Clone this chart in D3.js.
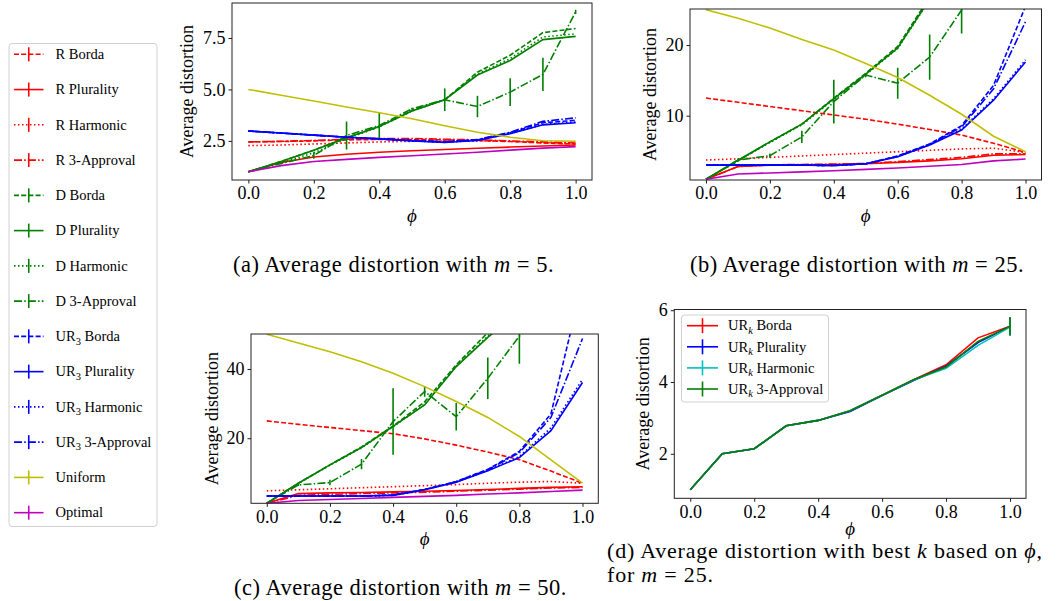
<!DOCTYPE html>
<html>
<head>
<meta charset="utf-8">
<script src="https://cdn.jsdelivr.net/npm/d3@7"></script>
<style>
body { margin: 0; background: #fff; }
text { font-family: "Liberation Serif", "Times New Roman", serif; fill: #000; }
</style>
</head>
<body>
<svg id="fig" width="1062" height="601"></svg>
<script>
// Data
const phi = [0, 0.1, 0.2, 0.3, 0.4, 0.5, 0.6, 0.7, 0.8, 0.9, 1.0];
const xTicks = [0, 0.2, 0.4, 0.6, 0.8, 1.0];

const seriesNames = [
    'R Borda', 'R Plurality', 'R Harmonic', 'R 3-Approval',
    'D Borda', 'D Plurality', 'D Harmonic', 'D 3-Approval',
    'UR_3 Borda', 'UR_3 Plurality', 'UR_3 Harmonic', 'UR_3 3-Approval',
    'Uniform', 'Optimal'
];

// m = 5
const m5Values = [
    [2.45, 2.47, 2.5, 2.55, 2.57, 2.57, 2.55, 2.52, 2.47, 2.4, 2.35],
    [1.0, 1.45, 1.72, 1.85, 1.95, 2.02, 2.08, 2.14, 2.2, 2.25, 2.3],
    [2.27, 2.3, 2.35, 2.4, 2.45, 2.48, 2.5, 2.5, 2.48, 2.42, 2.38],
    [2.45, 2.48, 2.52, 2.58, 2.62, 2.62, 2.58, 2.55, 2.5, 2.45, 2.4],
    [1.0, 1.5, 2.05, 2.65, 3.2, 3.98, 4.5, 5.84, 6.66, 7.76, 7.96],
    [1.0, 1.5, 2.05, 2.65, 3.2, 3.95, 4.5, 5.7, 6.41, 7.42, 7.58],
    [1.0, 1.45, 1.92, 2.6, 3.18, 3.95, 4.5, 5.75, 6.5, 7.55, 7.7],
    [1.0, 1.4, 1.79, 2.76, 3.25, 4.06, 4.5, 4.17, 4.87, 5.73, 8.77],
    [2.98, 2.88, 2.78, 2.68, 2.6, 2.52, 2.45, 2.55, 2.9, 3.38, 3.5],
    [2.98, 2.88, 2.78, 2.68, 2.6, 2.5, 2.42, 2.52, 2.85, 3.28, 3.38],
    [2.98, 2.88, 2.78, 2.68, 2.6, 2.5, 2.43, 2.53, 2.86, 3.3, 3.42],
    [2.98, 2.88, 2.78, 2.68, 2.6, 2.52, 2.46, 2.56, 2.92, 3.45, 3.62],
    [5.0, 4.72, 4.44, 4.15, 3.87, 3.58, 3.24, 2.92, 2.68, 2.51, 2.48],
    [1.0, 1.3, 1.5, 1.6, 1.7, 1.78, 1.86, 1.95, 2.05, 2.15, 2.22]
];
const m5ApprovalErr = [0, 0.03, 0.16, 0.68, 0.65, 0.05, 0.55, 0.52, 0.67, 0.81, 0.1];

// m = 25
const m25Values = [
    [12.5, 11.9, 11.3, 10.7, 10.1, 9.5, 8.8, 8.05, 7.25, 6.1, 4.8],
    [1.0, 2.8, 3.0, 3.05, 3.1, 3.2, 3.4, 3.6, 3.9, 4.4, 4.5],
    [3.73, 3.9, 4.1, 4.3, 4.5, 4.7, 4.9, 5.1, 5.3, 5.4, 4.8],
    [1.0, 2.8, 3.05, 3.1, 3.15, 3.25, 3.5, 3.8, 4.1, 4.6, 4.6],
    [1.0, 3.6, 6.3, 8.8, 12.5, 16.0, 19.8, 26.8, 34, 42, 48],
    [1.0, 3.7, 6.3, 8.8, 12.4, 15.9, 19.6, 26.5, 33.5, 41, 47],
    [1.0, 3.6, 6.2, 8.7, 12.3, 15.8, 19.5, 26.4, 33.3, 40.5, 46.5],
    [1.0, 3.73, 4.34, 7.0, 12.0, 15.75, 14.6, 18.3, 24.95, 30, 35],
    [3.0, 3.0, 3.0, 3.0, 2.95, 3.2, 4.3, 6.0, 8.6, 14.3, 25.5],
    [3.0, 3.0, 3.0, 3.0, 2.95, 3.2, 4.2, 5.86, 7.98, 12.2, 17.6],
    [3.0, 3.0, 3.0, 3.0, 2.95, 3.2, 4.2, 5.88, 8.1, 12.4, 17.9],
    [3.0, 3.0, 3.0, 3.0, 2.95, 3.2, 4.25, 5.95, 8.4, 13.8, 23.3],
    [25.0, 23.8, 22.4, 20.8, 19.3, 17.4, 15.4, 12.9, 10.2, 7.1, 4.9],
    [1.0, 1.75, 1.9, 2.05, 2.2, 2.4, 2.6, 2.85, 3.1, 3.6, 3.87]
];
const m25ApprovalErr = [0, 0.2, 0.3, 0.87, 3.1, 0.3, 2.2, 3.2, 3.3, 3, 3];

// m = 50
const m50Values = [
    [25, 24, 23.1, 22.2, 21.3, 19.8, 18.0, 16.0, 13.8, 10.5, 7.0],
    [1.2, 4.0, 4.2, 4.3, 4.5, 4.7, 4.9, 5.2, 5.5, 5.8, 6.0],
    [4.8, 5.1, 5.4, 5.7, 6.0, 6.3, 6.6, 7.0, 7.3, 7.5, 7.0],
    [1.2, 3.5, 3.8, 4.0, 4.2, 4.4, 4.7, 5.0, 5.3, 5.6, 5.8],
    [1.2, 7.0, 12.3, 17.5, 23.5, 30.5, 41.2, 50.5, 58, 64, 68],
    [1.2, 7.0, 12.3, 17.3, 23.4, 29.6, 40.7, 49.1, 57, 63, 67],
    [1.2, 6.9, 12.2, 17.2, 23.3, 29.8, 40.8, 49.5, 57.5, 63.5, 67.5],
    [1.2, 6.5, 7.2, 12.5, 24.8, 33.5, 26.2, 37.3, 49.5, 58, 64],
    [3.3, 3.3, 3.3, 3.3, 3.6, 5.2, 7.5, 11, 16.2, 27, 65],
    [3.3, 3.3, 3.3, 3.3, 3.5, 5.1, 7.3, 10.6, 14.4, 22.2, 36.1],
    [3.3, 3.3, 3.3, 3.3, 3.5, 5.1, 7.35, 10.7, 14.7, 23, 37],
    [3.3, 3.3, 3.3, 3.3, 3.6, 5.2, 7.4, 10.9, 15.8, 26, 48.8],
    [50, 47.5, 45, 42.1, 38.75, 34.9, 30.6, 26, 20.5, 13.75, 7.0],
    [1.2, 2.0, 2.3, 2.6, 2.9, 3.2, 3.5, 3.9, 4.2, 4.6, 5.0]
];
const m50ApprovalErr = [0, 0.3, 0.8, 1.5, 9.6, 1.5, 4, 6, 8, 6, 6];

// best k, m = 25
const bestKNames = ['UR_k Borda', 'UR_k Plurality', 'UR_k Harmonic', 'UR_k 3-Approval'];
const bestKValues = [
    [1.0, 2.0, 2.14, 2.78, 2.93, 3.2, 3.63, 4.07, 4.48, 5.23, 5.55],
    [1.0, 2.0, 2.14, 2.78, 2.93, 3.18, 3.62, 4.05, 4.44, 5.1, 5.55],
    [1.0, 2.0, 2.14, 2.78, 2.93, 3.2, 3.63, 4.06, 4.38, 5.02, 5.53],
    [1.0, 2.0, 2.14, 2.78, 2.93, 3.2, 3.63, 4.07, 4.42, 5.13, 5.55]
];
const bestKErr = [0, 0, 0, 0, 0, 0, 0, 0, 0, 0, 0.25];

// Styles
const RED = '#ff0000', GREEN = '#008000', BLUE = '#0000ff';
const DASH = '5,2.2', DOT = '1.5,2.5', DASHDOT = '8,2.2,1.5,2.2';
const seriesStyles = [
    { color: RED, dash: DASH }, { color: RED, dash: null }, { color: RED, dash: DOT }, { color: RED, dash: DASHDOT },
    { color: GREEN, dash: DASH }, { color: GREEN, dash: null }, { color: GREEN, dash: DOT }, { color: GREEN, dash: DASHDOT },
    { color: BLUE, dash: DASH }, { color: BLUE, dash: null }, { color: BLUE, dash: DOT }, { color: BLUE, dash: DASHDOT },
    { color: '#bfbf00', dash: null }, { color: '#bf00bf', dash: null }
];
const bestKStyles = [
    { color: RED, dash: null }, { color: BLUE, dash: null },
    { color: '#00bfbf', dash: null }, { color: GREEN, dash: null }
];

const svg = d3.select('#fig');
svg.append('rect').attr('width', 1062).attr('height', 601).attr('fill', '#fff');
const defs = svg.append('defs');

// Label with optional subscript, e.g. 'UR_3 Borda'
function labelText(sel, name) {
    const m = name.match(/^(\w+)_(\w) (.*)$/);
    if (!m) { sel.text(name); return; }
    sel.append('tspan').text(m[1]);
    const sub = sel.append('tspan').attr('dy', 3.5).attr('font-size', '0.72em').text(m[2]);
    if (m[2] === 'k') sub.attr('font-style', 'italic');
    sel.append('tspan').attr('dy', -3.5).text(' ' + m[3]);
}

function drawPanel(p) {
    const x = d3.scaleLinear().domain([-0.05, 1.05]).range([p.left, p.right]);
    const y = d3.scaleLinear().domain(p.yDomain).range([p.bottom, p.top]);
    const clipId = 'clip-' + p.id;
    defs.append('clipPath').attr('id', clipId)
        .append('rect')
        .attr('x', p.left).attr('y', p.top)
        .attr('width', p.right - p.left).attr('height', p.bottom - p.top);

    const g = svg.append('g');
    const plot = g.append('g').attr('clip-path', 'url(#' + clipId + ')');
    const line = d3.line().x((d, i) => x(phi[i])).y(d => y(d));

    p.values.forEach((vals, k) => {
        const st = p.styles[k];
        plot.append('path')
            .attr('d', line(vals))
            .attr('fill', 'none')
            .attr('stroke', st.color)
            .attr('stroke-width', 1.6)
            .attr('stroke-dasharray', st.dash);
        const err = p.errs[k];
        if (!err) return;
        // vertical error bars, no caps
        vals.forEach((v, i) => {
            if (!err[i]) return;
            plot.append('line')
                .attr('x1', x(phi[i])).attr('x2', x(phi[i]))
                .attr('y1', y(v - err[i])).attr('y2', y(v + err[i]))
                .attr('stroke', st.color)
                .attr('stroke-width', 1.6);
        });
    });

    // Axes
    const xAxis = d3.axisBottom(x).tickValues(xTicks).tickFormat(d3.format('.1f'))
        .tickSizeInner(3.5).tickSizeOuter(0).tickPadding(3);
    const yAxis = d3.axisLeft(y).tickValues(p.yTicks).tickFormat(p.yFormat)
        .tickSizeInner(3.5).tickSizeOuter(0).tickPadding(3);
    const xg = g.append('g').attr('transform', 'translate(0,' + p.bottom + ')').call(xAxis);
    const yg = g.append('g').attr('transform', 'translate(' + p.left + ',0)').call(yAxis);
    [xg, yg].forEach(a => {
        a.select('.domain').remove();
        a.selectAll('text').attr('font-size', 18).attr('font-family', '"Liberation Serif", serif');
        a.selectAll('line').attr('stroke', '#000').attr('stroke-width', 0.9);
    });

    g.append('rect')
        .attr('x', p.left).attr('y', p.top)
        .attr('width', p.right - p.left).attr('height', p.bottom - p.top)
        .attr('fill', 'none').attr('stroke', '#222').attr('stroke-width', 1);

    g.append('text')
        .attr('x', (p.left + p.right) / 2).attr('y', p.bottom + p.phiDy)
        .attr('text-anchor', 'middle').attr('font-size', 19).attr('font-style', 'italic')
        .text('ϕ');

    g.append('text')
        .attr('transform', 'translate(' + p.yLabelX + ',' + (p.top + p.bottom) / 2 + ') rotate(-90)')
        .attr('text-anchor', 'middle').attr('font-size', 18)
        .text('Average distortion');
}

const CAP_SIZE = 22.5;
function caption(xc, yb, label, m) {
    const t = svg.append('text').attr('x', xc).attr('y', yb)
        .attr('text-anchor', 'middle').attr('font-size', CAP_SIZE).attr('letter-spacing', 0.5);
    t.append('tspan').text(label + ' Average distortion with ');
    t.append('tspan').attr('font-style', 'italic').text('m');
    t.append('tspan').text(' = ' + m + '.');
}

drawPanel({
    id: 'a', left: 232, right: 592, top: 3, bottom: 180, phiDy: 42,
    yDomain: [0.6, 9.2], yTicks: [2.5, 5.0, 7.5], yFormat: d3.format('.1f'), yLabelX: 193,
    values: m5Values, styles: seriesStyles,
    errs: m5Values.map((v, i) => (i === 7 ? m5ApprovalErr : null))
});
drawPanel({
    id: 'b', left: 690, right: 1041.5, top: 9, bottom: 180, phiDy: 42,
    yDomain: [0.9, 25.1], yTicks: [10, 20], yFormat: d3.format('d'), yLabelX: 656,
    values: m25Values, styles: seriesStyles,
    errs: m25Values.map((v, i) => (i === 7 ? m25ApprovalErr : null))
});
drawPanel({
    id: 'c', left: 251, right: 598.3, top: 334, bottom: 503.3, phiDy: 42,
    yDomain: [1.2, 50.1], yTicks: [20, 40], yFormat: d3.format('d'), yLabelX: 217.5,
    values: m50Values, styles: seriesStyles,
    errs: m50Values.map((v, i) => (i === 7 ? m50ApprovalErr : null))
});
drawPanel({
    id: 'd', left: 674.3, right: 1026, top: 309.5, bottom: 498.3, phiDy: 37,
    yDomain: [0.76, 6.02], yTicks: [2, 4, 6], yFormat: d3.format('d'), yLabelX: 649,
    values: bestKValues, styles: bestKStyles,
    errs: bestKValues.map(() => bestKErr)
});

caption(393.5, 271.5, '(a)', 5);
caption(857, 271.5, '(b)', 25);
caption(400.5, 594.5, '(c)', 50);
(function () {
    const t = svg.append('text').attr('x', 607).attr('y', 558).attr('font-size', 22)
        .attr('letter-spacing', 0.8);
    t.append('tspan').text('(d) Average distortion with best ');
    t.append('tspan').attr('font-style', 'italic').text('k');
    t.append('tspan').text(' based on ');
    t.append('tspan').attr('font-style', 'italic').text('ϕ');
    t.append('tspan').text(',');
    const t2 = svg.append('text').attr('x', 607).attr('y', 582).attr('font-size', 22)
        .attr('letter-spacing', 0.8);
    t2.append('tspan').text('for ');
    t2.append('tspan').attr('font-style', 'italic').text('m');
    t2.append('tspan').text(' = 25.');
})();

// Legends
function legend(x0, y0, w, h, names, styles, rowY, lineX0, lineX1, textX, fontSize, tick) {
    const g = svg.append('g');
    g.append('rect').attr('x', x0).attr('y', y0).attr('width', w).attr('height', h)
        .attr('rx', 3).attr('fill', '#fff').attr('fill-opacity', 0.85)
        .attr('stroke', '#d0d0d0').attr('stroke-width', 1);
    names.forEach((name, i) => {
        const yy = rowY(i);
        const st = styles[i];
        g.append('line').attr('x1', lineX0).attr('x2', lineX1).attr('y1', yy).attr('y2', yy)
            .attr('stroke', st.color).attr('stroke-width', 1.6).attr('stroke-dasharray', st.dash);
        const xm = (lineX0 + lineX1) / 2;
        g.append('line').attr('x1', xm).attr('x2', xm).attr('y1', yy - tick).attr('y2', yy + tick)
            .attr('stroke', st.color).attr('stroke-width', 1.6);
        const t = g.append('text').attr('x', textX).attr('y', yy + fontSize * 0.33)
            .attr('font-size', fontSize);
        labelText(t, name);
    });
}

legend(9, 43.5, 148, 483, seriesNames, seriesStyles, i => 54.3 + i * 35.26, 14, 43.5, 55.5, 14.5, 7);
legend(681.5, 315, 147, 87, bestKNames, bestKStyles, i => 325.7 + i * 21.1, 687, 718, 728, 14.5, 7.5);
</script>
</body>
</html>
